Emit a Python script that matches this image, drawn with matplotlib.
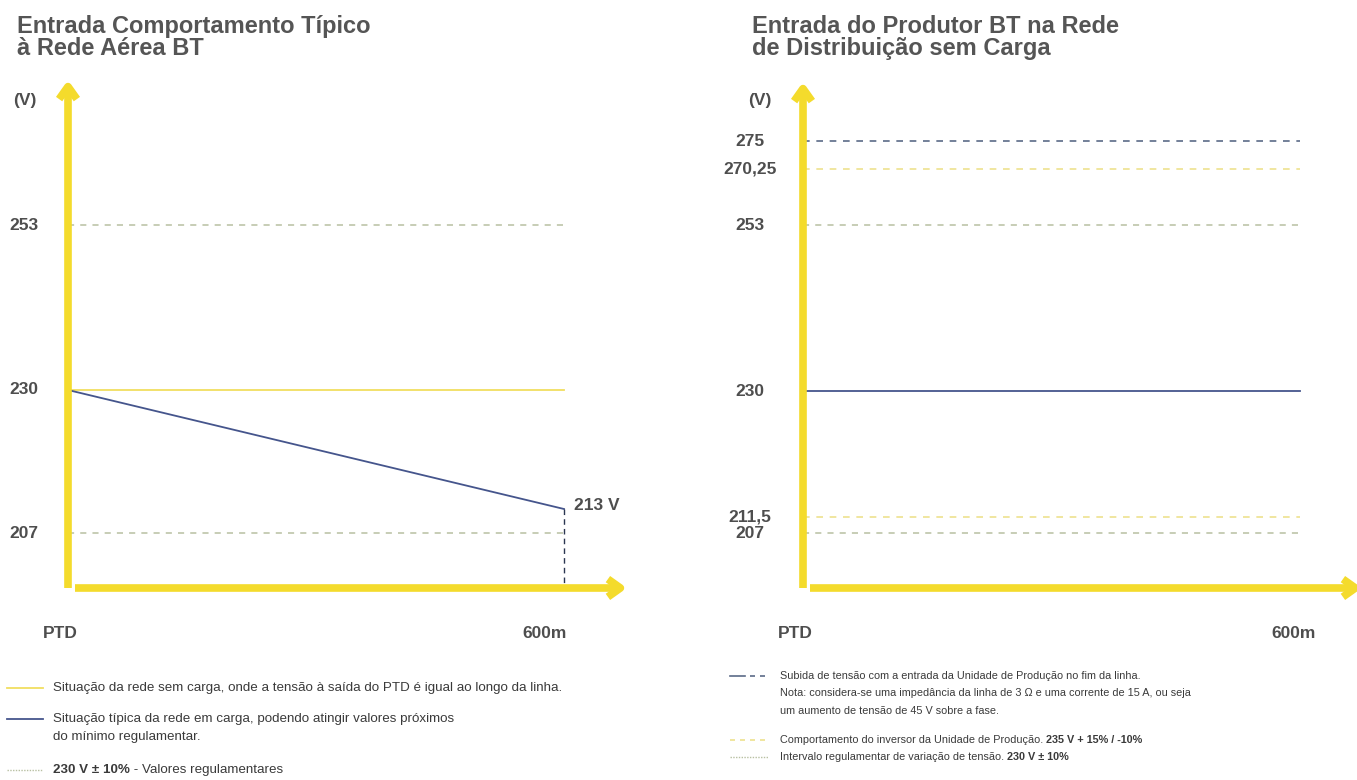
import numpy as np
import matplotlib
matplotlib.use("Agg")
import matplotlib.pyplot as plt
from matplotlib.scale import FuncScale

plt.rcParams["font.family"] = ["Liberation Sans", "DejaVu Sans"]

W, H = 1357, 780

# --- data -----------------------------------------------------------------
LINE_LEN = 600                      # m, PTD -> end of line
# left panel: typical behaviour of the overhead LV network
L_TICKS = [253, 230, 207]
L_TICK_LABELS = ["253", "230", "207"]
L_NOLOAD = [230, 230]               # no-load voltage along the line
L_LOADED = [230, 213]               # loaded network, drops to 213 V at 600 m
L_LIMITS = [253, 207]               # 230 V +/- 10 %
# right panel: producer at the end of the line, no load
R_TICKS = [275, 270.25, 253, 230, 211.5, 207]
R_TICK_LABELS = ["275", "270,25", "253", "230", "211,5", "207"]
R_RISE = 275                        # 230 V + 45 V rise
R_INVERTER = [270.25, 211.5]        # 235 V +15 % / -10 %
R_LIMITS = [253, 207]               # 230 V +/- 10 %
R_BASE = [230, 230]

# --- colours ----------------------------------------------------------------
YELLOW_AX = "#F4DB2C"
YELLOW_LN = "#F1DE60"
YELLOW_DS = "#EEE28F"
BLUE = "#45558C"
BLUE_DS = "#5B6B87"
GREEN_DS = "#B8C0A2"
TXT = "#4E4E4E"
TXT_LEG = "#3A3A3A"

LEG_FS_L, LEG_FS_R = 9.6, 7.8


def fx(px):
    return px / W


def fy(py):
    return 1 - py / H


def schematic_scale(vals, rows):
    """Piecewise-linear voltage axis: the drawing is not to scale, each
    labelled level sits on its own row (rows in px from the top)."""
    order = np.argsort(vals)
    v = np.asarray(vals, float)[order]
    p = -np.asarray(rows, float)[order]
    s0 = (p[1] - p[0]) / (v[1] - v[0])
    s1 = (p[-1] - p[-2]) / (v[-1] - v[-2])
    v = np.r_[v[0] - 1000, v, v[-1] + 1000]
    p = np.r_[p[0] - 1000 * s0, p, p[-1] + 1000 * s1]
    return (lambda y: np.interp(y, v, p)), (lambda q: np.interp(q, p, v))


def make_panel(fig, left_px, right_px, x0_px, x600_px, fwd, inv):
    ax = fig.add_axes([fx(left_px), 0, fx(right_px - left_px), 1])
    ppm = (x600_px - x0_px) / LINE_LEN
    ax.set_xlim(-(x0_px - left_px) / ppm, (right_px - x0_px) / ppm)
    ax.set_yscale(FuncScale(ax, (fwd, inv)))
    ax.set_ylim(inv(-H), inv(0))
    ax.axis("off")
    return ax


def axis_arrows(fig, x_px, top_px, base_px, xstart_px, xend_px):
    kw = dict(arrowstyle="->,head_length=0.45,head_width=0.32", lw=5.5,
              color=YELLOW_AX, mutation_scale=20, shrinkA=0, shrinkB=0,
              capstyle="butt")
    fig.add_artist(matplotlib.patches.FancyArrowPatch(
        (fx(x_px), fy(base_px)), (fx(x_px), fy(top_px)),
        transform=fig.transFigure, **kw))
    fig.add_artist(matplotlib.patches.FancyArrowPatch(
        (fx(xstart_px), fy(base_px)), (fx(xend_px), fy(base_px)),
        transform=fig.transFigure, **kw))


fig = plt.figure(figsize=(W / 100, H / 100), dpi=100)

# ---------------------------------------------------------------- left panel
fwd_l, inv_l = schematic_scale(L_TICKS + [L_LOADED[-1]], [225, 390, 533, 509])
axl = make_panel(fig, 0, 680, 68, 564, fwd_l, inv_l)
base_l = inv_l(-588)
x = [0, LINE_LEN]
for v in L_LIMITS:
    axl.plot(x, [v, v], color=GREEN_DS, lw=1.1, ls=(0, (4, 4)))
axl.plot(x, L_NOLOAD, color=YELLOW_LN, lw=1.3)
axl.plot(x, L_LOADED, color=BLUE, lw=1.3)
axl.plot([LINE_LEN, LINE_LEN], [L_LOADED[-1], base_l], color="#2A3550",
         lw=1.0, ls=(0, (4, 3)))
axl.annotate(f"{L_LOADED[-1]} V", xy=(LINE_LEN, L_LOADED[-1]),
             xytext=(10, 4), textcoords="offset pixels", va="center",
             ha="left", fontsize=12.5, fontweight="bold", color=TXT)
lbl_tr = matplotlib.transforms.blended_transform_factory(fig.transFigure,
                                                         axl.transData)
for v, s in zip(L_TICKS, L_TICK_LABELS):
    fig.text(fx(9), v, s, transform=lbl_tr, ha="left", va="center",
             fontsize=12.5, fontweight="bold", color=TXT)
axis_arrows(fig, 68, 80, 588, 75, 627)

# --------------------------------------------------------------- right panel
fwd_r, inv_r = schematic_scale(R_TICKS, [141, 169, 225, 391, 517, 533])
axr = make_panel(fig, 680, W, 803, 1300, fwd_r, inv_r)
axr.plot(x, [R_RISE, R_RISE], color=BLUE_DS, lw=1.2, ls=(0, (4, 4)))
for v in R_INVERTER:
    axr.plot(x, [v, v], color=YELLOW_DS, lw=1.2, ls=(0, (4, 4)))
for v in R_LIMITS:
    axr.plot(x, [v, v], color=GREEN_DS, lw=1.1, ls=(0, (4, 4)))
axr.plot(x, R_BASE, color=BLUE, lw=1.3)
lbl_tr = matplotlib.transforms.blended_transform_factory(fig.transFigure,
                                                         axr.transData)
for v, s in zip(R_TICKS, R_TICK_LABELS):
    fig.text(fx(750), v, s, transform=lbl_tr, ha="center", va="center",
             fontsize=12.5, fontweight="bold", color=TXT)
axis_arrows(fig, 803, 82, 588, 810, 1362)

# ----------------------------------------------------------- titles / labels
title_kw = dict(fontsize=17.0, fontweight="bold", color="#555555",
                va="baseline", ha="left", linespacing=0.95)
fig.text(fx(17), fy(55), "Entrada Comportamento Típico\nà Rede Aérea BT",
         **title_kw)
fig.text(fx(752), fy(55), "Entrada do Produtor BT na Rede\nde Distribuição sem Carga",
         **title_kw)

lab_kw = dict(fontsize=12.5, fontweight="bold", color=TXT, va="center")
fig.text(fx(13), fy(101), "(V)", ha="left", **lab_kw)
fig.text(fx(748), fy(101), "(V)", ha="left", **lab_kw)
fig.text(fx(43), fy(633), "PTD", ha="left", **lab_kw)
fig.text(fx(545), fy(633), "600m", ha="center", **lab_kw)
fig.text(fx(778), fy(633), "PTD", ha="left", **lab_kw)
fig.text(fx(1294), fy(633), "600m", ha="center", **lab_kw)


# -------------------------------------------------------------------- legends
def leg_mark(x0, x1, y, **kw):
    fig.add_artist(matplotlib.lines.Line2D([fx(x0), fx(x1)], [fy(y), fy(y)],
                                           transform=fig.transFigure, **kw))


def leg_text(x, y, parts, fs):
    """parts: list of (text, bold) drawn one after another on a line."""
    t = fig.text(fx(x), fy(y), parts[0][0], fontsize=fs, color=TXT_LEG,
                 va="center", ha="left",
                 fontweight="bold" if parts[0][1] else "normal")
    for s, bold in parts[1:]:
        t = axl.annotate(s, xy=(1, 0.5), xycoords=t, va="center", ha="left",
                         fontsize=fs, color=TXT_LEG,
                         fontweight="bold" if bold else "normal",
                         annotation_clip=False)


fl, fr = LEG_FS_L, LEG_FS_R
leg_mark(7, 43, 688, color=YELLOW_LN, lw=1.3)
leg_text(53, 688, [("Situação da rede sem carga, onde a tensão à saída do PTD é igual ao longo da linha.", False)], fl)
leg_mark(7, 43, 719, color=BLUE, lw=1.3)
leg_text(53, 719, [("Situação típica da rede em carga, podendo atingir valores próximos", False)], fl)
leg_text(53, 737, [("do mínimo regulamentar.", False)], fl)
leg_mark(7, 43, 770, color=GREEN_DS, lw=1.0, ls=(0, (1, 1)))
leg_text(53, 770, [("230 V ± 10%", True), (" - Valores regulamentares", False)], fl)

leg_mark(730, 745, 676, color=BLUE_DS, lw=1.2)
leg_mark(750, 768, 676, color=BLUE_DS, lw=1.2, ls=(0, (3, 3)))
leg_text(780, 676, [("Subida de tensão com a entrada da Unidade de Produção no fim da linha.", False)], fr)
leg_text(780, 693, [("Nota: considera-se uma impedância da linha de 3 Ω e uma corrente de 15 A, ou seja", False)], fr)
leg_text(780, 711, [("um aumento de tensão de 45 V sobre a fase.", False)], fr)
leg_mark(730, 768, 740, color=YELLOW_DS, lw=1.2, ls=(0, (3, 3)))
leg_text(780, 740, [("Comportamento do inversor da Unidade de Produção. ", False),
                    ("235 V + 15% / -10%", True)], fr)
leg_mark(730, 768, 757, color=GREEN_DS, lw=1.0, ls=(0, (1, 1)))
leg_text(780, 757, [("Intervalo regulamentar de variação de tensão. ", False),
                    ("230 V ± 10%", True)], fr)

fig.savefig("out.png", dpi=100)
